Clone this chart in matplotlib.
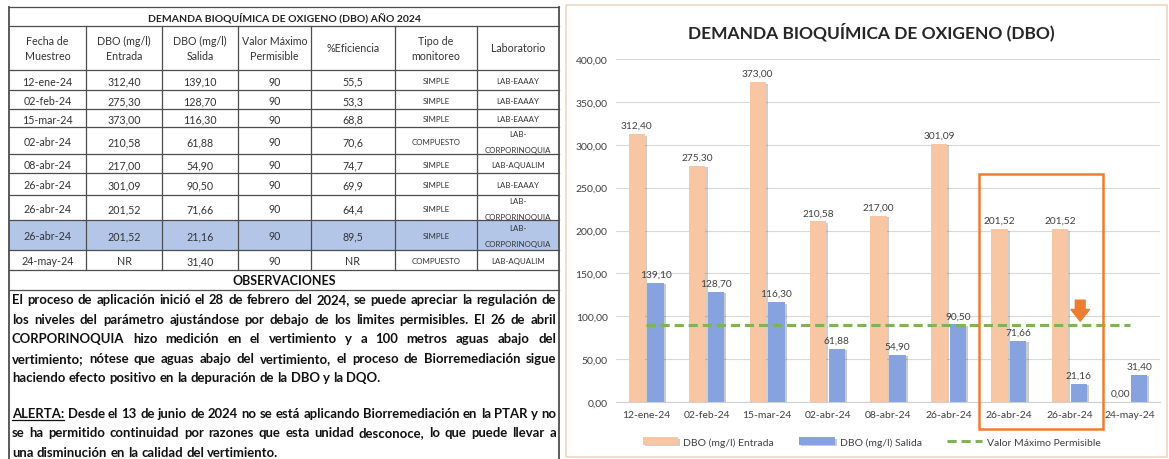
import matplotlib
matplotlib.use('Agg')
import matplotlib.pyplot as plt
from matplotlib import patheffects
from matplotlib.patches import Rectangle, FancyArrowPatch
import numpy as np

plt.rcParams['font.family'] = ['Lato', 'DejaVu Sans']

# ---- datos ----
fechas = ['12-ene-24', '02-feb-24', '15-mar-24', '02-abr-24', '08-abr-24',
          '26-abr-24', '26-abr-24', '26-abr-24', '24-may-24']
entrada = [312.40, 275.30, 373.00, 210.58, 217.00, 301.09, 201.52, 201.52, None]  # None = NR
salida = [139.10, 128.70, 116.30, 61.88, 54.90, 90.50, 71.66, 21.16, 31.40]
limite = 90
eficiencia = ['55,5', '53,3', '68,8', '70,6', '74,7', '69,9', '64,4', '89,5', 'NR']
tipo = ['SIMPLE', 'SIMPLE', 'SIMPLE', 'COMPUESTO', 'SIMPLE', 'SIMPLE', 'SIMPLE',
        'SIMPLE', 'COMPUESTO']
laboratorio = ['LAB-EAAAY', 'LAB-EAAAY', 'LAB-EAAAY', 'LAB-\nCORPORINOQUIA', 'LAB-AQUALIM',
               'LAB-EAAAY', 'LAB-\nCORPORINOQUIA', 'LAB-\nCORPORINOQUIA', 'LAB-AQUALIM']
encabezados = ['Fecha de\nMuestreo', 'DBO (mg/l)\nEntrada', 'DBO (mg/l)\nSalida',
               'Valor Máximo\nPermisible', '%Eficiencia', 'Tipo de\nmonitoreo', 'Laboratorio']
fila_resaltada = 7
recuadro = [6, 7]
y_ticks = [0, 50, 100, 150, 200, 250, 300, 350, 400]

titulo_tabla = 'DEMANDA BIOQUÍMICA DE OXIGENO (DBO) AÑO 2024'
titulo_grafico = 'DEMANDA BIOQUÍMICA DE OXIGENO (DBO)'

parrafo1 = ['El proceso de aplicación inició el 28 de febrero del 2024, se puede apreciar la regulación de',
            'los niveles del parámetro ajustándose por debajo de los limites permisibles. El 26 de abril',
            'CORPORINOQUIA hizo medición en el vertimiento y a 100 metros aguas abajo del',
            'vertimiento; nótese que aguas abajo del vertimiento, el proceso de Biorremediación sigue',
            'haciendo efecto positivo en la depuración de la DBO y la DQO.']
parrafo2 = ['ALERTA: Desde el 13 de junio de 2024 no se está aplicando Biorremediación en la PTAR y no',
            'se ha permitido continuidad por razones que esta unidad desconoce, lo que puede llevar a',
            'una disminución en la calidad del vertimiento.']


def coma(v):
    return f'{v:.2f}'.replace('.', ',')


fig = plt.figure(figsize=(11.69, 4.6), dpi=100)
renderer = fig.canvas.get_renderer()

# lienzo en pixeles para la tabla
px = fig.add_axes([0, 0, 1, 1])
px.set_xlim(0, 1169)
px.set_ylim(460, 0)
px.axis('off')

cols = [9, 86, 162, 238, 311, 395, 477, 559]
rows = [8, 27, 71, 91, 110, 128, 155, 174, 196, 221, 251, 271, 291]
linea = dict(color='#4d4d4d', lw=0.9)
txt = '#333333'

r0 = rows[2 + fila_resaltada]
r1 = rows[3 + fila_resaltada]
px.add_patch(Rectangle((cols[0], r0), cols[-1] - cols[0], r1 - r0, color='#B4C6E7', lw=0))

for y in rows:
    px.plot([cols[0], cols[-1]], [y, y], **linea)
for xc in cols[1:-1]:
    px.plot([xc, xc], [rows[1], rows[11]], **linea)
px.plot([cols[0], cols[0]], [rows[0], 460], color='#4d4d4d', lw=1.3)
px.plot([cols[-1], cols[-1]], [rows[0], 460], color='#4d4d4d', lw=1.3)

px.text((cols[0] + cols[-1]) / 2, (rows[0] + rows[1]) / 2 + 1, titulo_tabla,
        fontsize=7.5, fontweight='bold', ha='center', va='center', color='#222222')
for j, h in enumerate(encabezados):
    px.text((cols[j] + cols[j + 1]) / 2, (rows[1] + rows[2]) / 2, h, fontsize=7.7,
            ha='center', va='center', color=txt, linespacing=1.5)

for i in range(len(fechas)):
    yc = (rows[2 + i] + rows[3 + i]) / 2 + 1
    ent = 'NR' if entrada[i] is None else coma(entrada[i])
    celdas = [fechas[i], ent, coma(salida[i]), str(limite), eficiencia[i], tipo[i]]
    for j, c in enumerate(celdas):
        fs = 5.7 if j == 5 else 7.7
        px.text((cols[j] + cols[j + 1]) / 2, yc, c, fontsize=fs, ha='center', va='center',
                color=txt)
    xl = (cols[6] + cols[7]) / 2
    partes = laboratorio[i].split('\n')
    if len(partes) == 1:
        px.text(xl, yc, partes[0], fontsize=5.7, ha='center', va='center', color=txt)
    else:
        px.text(xl, yc - 8, partes[0], fontsize=5.7, ha='center', va='center', color=txt)
        px.text(xl, yc + 8, partes[1], fontsize=5.7, ha='center', va='center', color=txt)

px.text((cols[0] + cols[-1]) / 2, (rows[11] + rows[12]) / 2, 'OBSERVACIONES', fontsize=9,
        fontweight='bold', ha='center', va='center', color='#111111')


# texto justificado
def ancho(s, fs):
    t = px.text(0, 0, s, fontsize=fs, fontweight='bold')
    w = t.get_window_extent(renderer).width
    t.remove()
    return w


x0, x1 = 12, 556
fs_obs = 12.0
mas_ancho = max(ancho(l, fs_obs) for l in parrafo1[:-1] + parrafo2[:-1])
fs_obs = fs_obs * (x1 - x0 - 4) / mas_ancho
espacio = ancho('x x', fs_obs) - ancho('xx', fs_obs)


def escribir(texto, y, justificar):
    palabras = texto.split(' ')
    arts = [px.text(0, y, p, fontsize=fs_obs, fontweight='bold', va='center', ha='left',
                    color='#111111') for p in palabras]
    anchos = [a.get_window_extent(renderer).width for a in arts]
    gap = (x1 - x0 - sum(anchos)) / (len(palabras) - 1) if justificar else espacio
    x = x0
    for a, w in zip(arts, anchos):
        a.set_x(x)
        x += w + gap
    return arts, anchos


for k, l in enumerate(parrafo1):
    escribir(l, 300 + 19.6 * k, k < len(parrafo1) - 1)
for k, l in enumerate(parrafo2):
    arts, anchos = escribir(l, 414 + 19.4 * k, k < len(parrafo2) - 1)
    if k == 0:
        px.plot([x0, x0 + anchos[0]], [421, 421], color='#111111', lw=0.9)

# ---- grafico ----
px.add_patch(Rectangle((566, 6), 601, 452, fill=False, ec='#EED8C2', lw=1.2))
px.text(871, 32, titulo_grafico, fontsize=12.5, fontweight='bold', ha='center',
        va='center', color='#262626')

ax = fig.add_axes([616 / 1169, 57 / 460, 544 / 1169, 343 / 460])
x = np.arange(len(fechas))
ent_vals = [0 if v is None else v for v in entrada]
w = 0.27
sombra = [patheffects.SimplePatchShadow(offset=(1.5, -1.0), alpha=0.25), patheffects.Normal()]
b1 = ax.bar(x - 0.155, ent_vals, w, color='#F8C6A2', label='DBO (mg/l) Entrada', zorder=2)
b2 = ax.bar(x + 0.155, salida, w, color='#86A3DF', label='DBO (mg/l) Salida', zorder=2)
for b in list(b1) + list(b2):
    b.set_path_effects(sombra)
ln, = ax.plot(x, [limite] * len(x), color='#7FB356', lw=2.2, dashes=(3, 1.6),
              label='Valor Máximo Permisible', zorder=3)

ax.bar_label(b1, labels=[coma(v) for v in ent_vals], padding=3, fontsize=7.3, color='#404040')
ax.bar_label(b2, labels=[coma(v) for v in salida], padding=3, fontsize=7.3, color='#404040')

ax.set_xlim(-0.5, len(fechas) - 0.5)
ax.set_ylim(0, 400)
ax.set_yticks(y_ticks, labels=[coma(v) for v in y_ticks])
ax.set_xticks(x, labels=fechas)
ax.tick_params(length=0, labelsize=7.5, colors='#404040')
ax.tick_params(axis='y', pad=6)
ax.tick_params(axis='x', pad=6)
ax.yaxis.grid(True, color='#D9D9D9', lw=0.8)
ax.set_axisbelow(True)
for s in ['top', 'left', 'right']:
    ax.spines[s].set_visible(False)
ax.spines['bottom'].set_color('#D0D0D0')

ax.add_patch(Rectangle((recuadro[0] - 0.5, -31), len(recuadro) + 0.05, 297, fill=False,
                       ec='#ED7D31', lw=1.8, clip_on=False, zorder=6))
ax.add_patch(FancyArrowPatch((recuadro[-1] + 0.18, 122), (recuadro[-1] + 0.18, 91),
                             arrowstyle='simple,head_width=0.95,head_length=0.6,tail_width=0.5',
                             mutation_scale=14, color='#ED7D31', zorder=7))

ax.legend(handles=[b1, b2, ln], loc='center', bbox_to_anchor=(872 / 1169, 1 - 443 / 460),
          bbox_transform=fig.transFigure, ncol=3, frameon=False, fontsize=7.5,
          handlelength=3.4, columnspacing=2.4, handletextpad=0.5, labelcolor='#404040')

fig.savefig('out.png', dpi=100)
